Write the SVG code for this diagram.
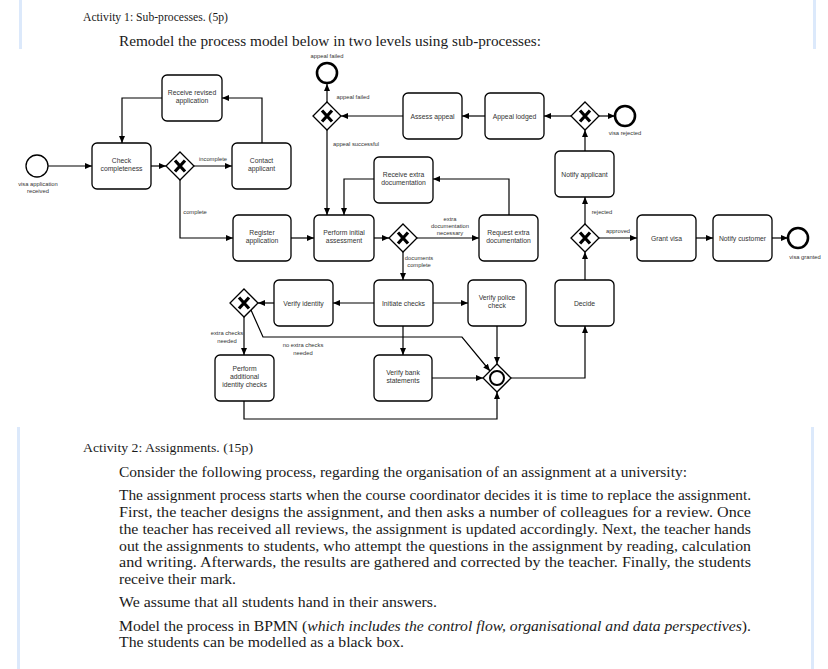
<svg xmlns="http://www.w3.org/2000/svg" width="828" height="669" viewBox="0 0 828 669">
<defs>
<marker id="arr" markerUnits="userSpaceOnUse" markerWidth="7" markerHeight="6" refX="7" refY="3" orient="auto">
<path d="M0,0 L7,3 L0,6 z" fill="#000"/>
</marker>
<style>
.bar{fill:#dce9fb}
.doc{font-family:"Liberation Serif","Times New Roman",serif;font-size:14px;fill:#1a1a1a}
.hd{font-family:"Liberation Serif","Times New Roman",serif;font-size:13px;fill:#1a1a1a}
.task{fill:#fff;stroke:#000;stroke-width:1.3}
.tt{font-family:"Liberation Sans",Arial,sans-serif;font-size:6.8px;fill:#333;text-anchor:middle}
.lbl{font-family:"Liberation Sans",Arial,sans-serif;font-size:5.8px;fill:#333;text-anchor:middle}
.gw{fill:#fff;stroke:#000;stroke-width:1.3}
.x{stroke:#000;stroke-width:3.2;stroke-linecap:butt}
.ev{fill:#fff;stroke:#000;stroke-width:1.3}
.end{fill:#fff;stroke:#000;stroke-width:2.6}
.cn{fill:none;stroke:#000;stroke-width:1.2;marker-end:url(#arr)}
</style>
</defs>
<rect width="828" height="669" fill="#fff"/>
<rect class="bar" x="19" y="0" width="3" height="49"/>
<rect class="bar" x="813" y="0" width="3" height="49"/>
<rect class="bar" x="17" y="427" width="3" height="242"/>
<rect class="bar" x="811" y="427" width="3" height="242"/>

<g id="text">
<text class="hd" x="83" y="21" textLength="145" lengthAdjust="spacingAndGlyphs">Activity 1: Sub-processes. (5p)</text>
<text class="doc" x="119" y="46" textLength="422" lengthAdjust="spacingAndGlyphs">Remodel the process model below in two levels using sub-processes:</text>
<text class="hd" x="83" y="452" textLength="170" lengthAdjust="spacingAndGlyphs">Activity 2: Assignments. (15p)</text>
<text class="doc" x="119" y="477" textLength="568" lengthAdjust="spacingAndGlyphs">Consider the following process, regarding the organisation of an assignment at a university:</text>
<text class="doc" x="119" y="500" textLength="632" lengthAdjust="spacingAndGlyphs">The assignment process starts when the course coordinator decides it is time to replace the assignment.</text>
<text class="doc" x="119" y="517" textLength="632" lengthAdjust="spacingAndGlyphs">First, the teacher designs the assignment, and then asks a number of colleagues for a review. Once</text>
<text class="doc" x="119" y="534" textLength="632" lengthAdjust="spacingAndGlyphs">the teacher has received all reviews, the assignment is updated accordingly. Next, the teacher hands</text>
<text class="doc" x="119" y="551" textLength="632" lengthAdjust="spacingAndGlyphs">out the assignments to students, who attempt the questions in the assignment by reading, calculation</text>
<text class="doc" x="119" y="567" textLength="632" lengthAdjust="spacingAndGlyphs">and writing. Afterwards, the results are gathered and corrected by the teacher. Finally, the students</text>
<text class="doc" x="119" y="584" textLength="117" lengthAdjust="spacingAndGlyphs">receive their mark.</text>
<text class="doc" x="119" y="607" textLength="318" lengthAdjust="spacingAndGlyphs">We assume that all students hand in their answers.</text>
<text class="doc" x="119" y="631" textLength="632" lengthAdjust="spacingAndGlyphs">Model the process in BPMN (<tspan font-style="italic">which includes the control flow, organisational and data perspectives</tspan>).</text>
<text class="doc" x="119" y="647" textLength="285" lengthAdjust="spacingAndGlyphs">The students can be modelled as a black box.</text>
</g>

<g id="connectors">
<path class="cn" d="M48,166 L92,166"/>
<path class="cn" d="M151,166 L166,166"/>
<path class="cn" d="M194,166 L232,166"/>
<path class="cn" d="M262,143 L262,98 L222,98"/>
<path class="cn" d="M162,98 L122,98 L122,143"/>
<path class="cn" d="M180,180 L180,238 L233,238"/>
<path class="cn" d="M291,238 L314,238"/>
<path class="cn" d="M374,238 L389,238"/>
<path class="cn" d="M417,238 L479,238"/>
<path class="cn" d="M509,215 L509,179 L433,179"/>
<path class="cn" d="M374,179 L344,179 L344,215"/>
<path class="cn" d="M403,252 L403,280"/>
<path class="cn" d="M374,303 L333,303"/>
<path class="cn" d="M274,303 L258,303"/>
<path class="cn" d="M244,317 L244,355"/>
<path class="cn" d="M251,310 L263,337 L462,337 L490,371"/>
<path class="cn" d="M433,303 L468,303"/>
<path class="cn" d="M403,326 L403,355"/>
<path class="cn" d="M497,326 L497,364"/>
<path class="cn" d="M432,378 L483,378"/>
<path class="cn" d="M244,401 L244,419 L497,419 L497,392"/>
<path class="cn" d="M511,378 L585,378 L585,326"/>
<path class="cn" d="M585,280 L585,252"/>
<path class="cn" d="M585,224 L585,197"/>
<path class="cn" d="M599,238 L637,238"/>
<path class="cn" d="M696,238 L713,238"/>
<path class="cn" d="M772,238 L788,238"/>
<path class="cn" d="M585,151 L585,130"/>
<path class="cn" d="M599,116 L615,116"/>
<path class="cn" d="M571,116 L544,116"/>
<path class="cn" d="M485,116 L462,116"/>
<path class="cn" d="M403,116 L341,116"/>
<path class="cn" d="M327,102 L327,84"/>
<path class="cn" d="M327,130 L327,215"/>
<text class="lbl" x="213" y="161">incomplete</text>
<text class="lbl" x="195" y="214">complete</text>
<text class="lbl" x="450" y="221">extra</text>
<text class="lbl" x="450" y="228">documentation</text>
<text class="lbl" x="450" y="235">necessary</text>
<text class="lbl" x="419" y="260">documents</text>
<text class="lbl" x="419" y="267">complete</text>
<text class="lbl" x="227" y="335">extra checks</text>
<text class="lbl" x="227" y="343">needed</text>
<text class="lbl" x="303" y="347">no extra checks</text>
<text class="lbl" x="303" y="355">needed</text>
<text class="lbl" x="602" y="214">rejected</text>
<text class="lbl" x="618" y="233">approved</text>
<text class="lbl" x="353" y="99">appeal failed</text>
<text class="lbl" x="356" y="146">appeal successful</text>
</g>

<g id="start">
<circle class="ev" cx="37" cy="166" r="11"/>
<text class="lbl" x="38" y="186">visa application</text>
<text class="lbl" x="38" y="193">received</text>
</g>
<g id="check-completeness">
<rect class="task" x="92" y="143" width="59" height="46" rx="5"/>
<text class="tt" x="121.5" y="163">Check</text>
<text class="tt" x="121.5" y="171">completeness</text>
</g>
<g id="gw-complete">
<path class="gw" d="M180,152 L194,166 L180,180 L166,166 z"/>
<path class="x" d="M175,160.5 L185,171.5 M185,160.5 L175,171.5"/>
</g>
<g id="contact-applicant">
<rect class="task" x="232" y="143" width="59" height="46" rx="5"/>
<text class="tt" x="261.5" y="163">Contact</text>
<text class="tt" x="261.5" y="171">applicant</text>
</g>
<g id="receive-revised">
<rect class="task" x="162" y="75" width="60" height="46" rx="5"/>
<text class="tt" x="192" y="95">Receive revised</text>
<text class="tt" x="192" y="103">application</text>
</g>
<g id="register-application">
<rect class="task" x="233" y="215" width="58" height="46" rx="5"/>
<text class="tt" x="262" y="235">Register</text>
<text class="tt" x="262" y="243">application</text>
</g>
<g id="perform-initial">
<rect class="task" x="314" y="215" width="60" height="46" rx="5"/>
<text class="tt" x="344" y="235">Perform initial</text>
<text class="tt" x="344" y="243">assessment</text>
</g>
<g id="gw-docs">
<path class="gw" d="M403,224 L417,238 L403,252 L389,238 z"/>
<path class="x" d="M398,232.5 L408,243.5 M408,232.5 L398,243.5"/>
</g>
<g id="request-extra">
<rect class="task" x="479" y="215" width="59" height="46" rx="5"/>
<text class="tt" x="508.5" y="235">Request extra</text>
<text class="tt" x="508.5" y="243">documentation</text>
</g>
<g id="receive-extra">
<rect class="task" x="374" y="157" width="59" height="46" rx="5"/>
<text class="tt" x="403.5" y="177">Receive extra</text>
<text class="tt" x="403.5" y="185">documentation</text>
</g>
<g id="initiate-checks">
<rect class="task" x="374" y="280" width="59" height="46" rx="5"/>
<text class="tt" x="403.5" y="305.5">Initiate checks</text>
</g>
<g id="verify-identity">
<rect class="task" x="274" y="280" width="59" height="46" rx="5"/>
<text class="tt" x="303.5" y="305.5">Verify identity</text>
</g>
<g id="gw-extra-checks">
<path class="gw" d="M244,289 L258,303 L244,317 L230,303 z"/>
<path class="x" d="M239,297.5 L249,308.5 M249,297.5 L239,308.5"/>
</g>
<g id="verify-police">
<rect class="task" x="468" y="280" width="58" height="46" rx="5"/>
<text class="tt" x="497" y="300">Verify police</text>
<text class="tt" x="497" y="308">check</text>
</g>
<g id="perform-additional">
<rect class="task" x="215" y="355" width="59" height="46" rx="5"/>
<text class="tt" x="244.5" y="371">Perform</text>
<text class="tt" x="244.5" y="379">additional</text>
<text class="tt" x="244.5" y="387">identity checks</text>
</g>
<g id="verify-bank">
<rect class="task" x="374" y="355" width="58" height="46" rx="5"/>
<text class="tt" x="403" y="375">Verify bank</text>
<text class="tt" x="403" y="383">statements</text>
</g>
<g id="gw-join">
<path class="gw" d="M497,364 L511,378 L497,392 L483,378 z"/>
<circle cx="497" cy="378" r="7" fill="none" stroke="#000" stroke-width="2"/>
</g>
<g id="decide">
<rect class="task" x="555" y="280" width="59" height="46" rx="5"/>
<text class="tt" x="584.5" y="305.5">Decide</text>
</g>
<g id="gw-approved">
<path class="gw" d="M585,224 L599,238 L585,252 L571,238 z"/>
<path class="x" d="M580,232.5 L590,243.5 M590,232.5 L580,243.5"/>
</g>
<g id="grant-visa">
<rect class="task" x="637" y="215" width="59" height="46" rx="5"/>
<text class="tt" x="666.5" y="240.5">Grant visa</text>
</g>
<g id="notify-customer">
<rect class="task" x="713" y="215" width="59" height="46" rx="5"/>
<text class="tt" x="742.5" y="240.5">Notify customer</text>
</g>
<g id="end-granted">
<circle class="end" cx="798" cy="238" r="10"/>
<text class="lbl" x="805" y="259">visa granted</text>
</g>
<g id="notify-applicant">
<rect class="task" x="555" y="151" width="59" height="46" rx="5"/>
<text class="tt" x="584.5" y="176.5">Notify applicant</text>
</g>
<g id="gw-rejected">
<path class="gw" d="M585,102 L599,116 L585,130 L571,116 z"/>
<path class="x" d="M580,110.5 L590,121.5 M590,110.5 L580,121.5"/>
</g>
<g id="end-rejected">
<circle class="end" cx="625" cy="116" r="10"/>
<text class="lbl" x="625" y="135">visa rejected</text>
</g>
<g id="appeal-lodged">
<rect class="task" x="485" y="93" width="59" height="46" rx="5"/>
<text class="tt" x="514.5" y="118.5">Appeal lodged</text>
</g>
<g id="assess-appeal">
<rect class="task" x="403" y="93" width="59" height="46" rx="5"/>
<text class="tt" x="432.5" y="118.5">Assess appeal</text>
</g>
<g id="gw-appeal">
<path class="gw" d="M327,102 L341,116 L327,130 L313,116 z"/>
<path class="x" d="M322,110.5 L332,121.5 M332,110.5 L322,121.5"/>
</g>
<g id="end-appeal-failed">
<circle class="end" cx="327" cy="73" r="10"/>
<text class="lbl" x="327" y="58">appeal failed</text>
</g>
</svg>
